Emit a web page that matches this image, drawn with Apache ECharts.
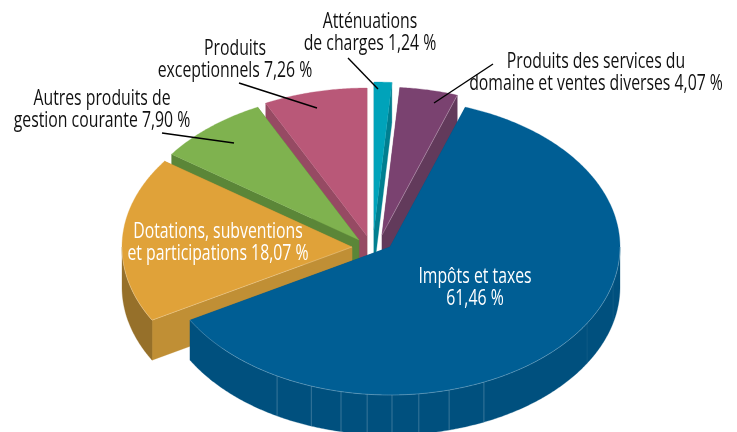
<!DOCTYPE html>
<html>
<head>
<meta charset="utf-8">
<style>html,body{margin:0;padding:0;background:#fff}#c{width:737px;height:432px}</style>
<script src="https://cdn.jsdelivr.net/npm/echarts@6/dist/echarts.min.js"></script>
</head>
<body>
<div id="c"></div>
<script>
// Data, clockwise from 12 o'clock
var categories = ["Atténuations de charges", "Produits des services du domaine et ventes diverses", "Impôts et taxes", "Dotations, subventions et participations", "Autres produits de gestion courante", "Produits exceptionnels"];
var values = [1.24, 4.07, 61.46, 18.07, 7.90, 7.26];
var labelLines = [
  ["Atténuations", "de charges 1,24 %"],
  ["Produits des services du", "domaine et ventes diverses 4,07 %"],
  ["Impôts et taxes", "61,46 %"],
  ["Dotations, subventions", "et participations 18,07 %"],
  ["Autres produits de", "gestion courante 7,90 %"],
  ["Produits", "exceptionnels 7,26 %"]
];

// Styles
var topColors  = ["#00a3ba", "#7a4270", "#005e94", "#e0a239", "#7fb24f", "#b95878"];
var sideColors = ["#007f90", "#623a5b", "#00507e", "#c08f35", "#5b8638", "#964a63"];
var outerColors= ["#007f90", "#623a5b", "#00507e", "#96702a", "#5b8638", "#964a63"];
var labelColors= ["#111", "#111", "#fff", "#fff", "#111", "#111"];

// Layout
var rx = 230, ry = 148, depth = 40;
var sliceCenters = [[374,230],[382,235],[390,247],[352,247],[359,240],[367,236]];
var drawOrder = [0, 1, 5, 4, 3, 2];
var labelCenters = [[370,33],[596,73],[475,288],[218,243],[102,110],[235,60]];
var leaders = [[[348,58],[378,89]], [[493,64],[434,103]], null, null, [[162,133],[234,143]], [[239,83],[317,108]]];
var textSquash = 0.735;
// angles (deg) of the faint seams on the blue wall
var seamAngles = [104, 121, 155.9, 165.1, 172.8, 179.5, 185.7, 192.3, 200, 209.4];

var total = values.reduce(function (a, b) { return a + b; }, 0);
var starts = [], acc = 0;
values.forEach(function (v) { starts.push(acc / total * 360); acc += v; });

function pt(c, deg, dy) {
  var r = deg * Math.PI / 180;
  return [c[0] + rx * Math.sin(r), c[1] - ry * Math.cos(r) + (dy || 0)];
}
function arc(c, a0, a1, dy) {
  var pts = [], n = Math.max(2, Math.ceil(Math.abs(a1 - a0) * 2));
  for (var k = 0; k <= n; k++) pts.push(pt(c, a0 + (a1 - a0) * k / n, dy));
  return pts;
}
function poly(points, fill) {
  return { type: 'polygon', shape: { points: points }, style: { fill: fill, stroke: fill, lineWidth: 0.3 } };
}
function line(points, color, w) {
  return { type: 'polyline', shape: { points: points }, style: { fill: 'none', stroke: color, lineWidth: w } };
}

function renderSlice(params, api) {
  var i = api.value(1);
  var a0 = starts[i], a1 = a0 + api.value(0) / total * 360;
  var c = sliceCenters[i];
  var kids = [];
  var apexLow = [c[0], c[1] + depth];
  // radial walls
  [a0, a1].forEach(function (a) {
    kids.push(poly([c, pt(c, a), pt(c, a, depth), apexLow], sideColors[i]));
  });
  // curved outer wall, front half only
  var f0 = Math.max(a0, 90), f1 = Math.min(a1, 270);
  if (f1 > f0) {
    var upper = arc(c, f0, f1), lower = arc(c, f1, f0, depth);
    kids.push(poly(upper.concat(lower), outerColors[i]));
    if (i === 2) {
      seamAngles.forEach(function (s) {
        var alpha = s < 130 ? 0.08 : 0.28;
        kids.push(line([pt(c, s), pt(c, s, depth)], 'rgba(255,255,255,' + alpha + ')', 0.8));
      });
    }
  }
  // top face
  var top = [c].concat(arc(c, a0, a1));
  kids.push(poly(top, topColors[i]));
  // light rim
  var rim = 'rgba(255,255,255,0.35)';
  if (f1 > f0) kids.push(line(arc(c, f0, f1), rim, 0.7));
  if (i === 1) kids.push(line([c, pt(c, a1)], rim, 0.7));
  if (i === 3) kids.push(line([c, pt(c, a0)], rim, 0.7));
  return { type: 'group', children: kids };
}

function renderLabel(params, api) {
  var i = api.value(0);
  var kids = [];
  if (leaders[i]) kids.push(line(leaders[i], '#000', 1.4));
  kids.push({
    type: 'text', x: labelCenters[i][0], y: labelCenters[i][1], scaleX: textSquash,
    style: {
      text: labelLines[i].join('\n'), fill: labelColors[i],
      fontFamily: '"Open Sans","Noto Sans",sans-serif', fontSize: 21.5, lineHeight: 22.5,
      textAlign: 'center', textVerticalAlign: 'middle'
    }
  });
  return { type: 'group', children: kids };
}

var chart = echarts.init(document.getElementById('c'), null, { renderer: 'canvas' });
chart.setOption({
  animation: false,
  backgroundColor: '#fff',
  series: [
    { type: 'custom', coordinateSystem: 'none', renderItem: renderSlice, silent: true, z: 1,
      data: drawOrder.map(function (i) { return { name: categories[i], value: [values[i], i] }; }) },
    { type: 'custom', coordinateSystem: 'none', renderItem: renderLabel, silent: true, z: 2,
      data: values.map(function (v, i) { return { name: categories[i], value: [i, v] }; }) }
  ]
});
</script>
</body>
</html>
